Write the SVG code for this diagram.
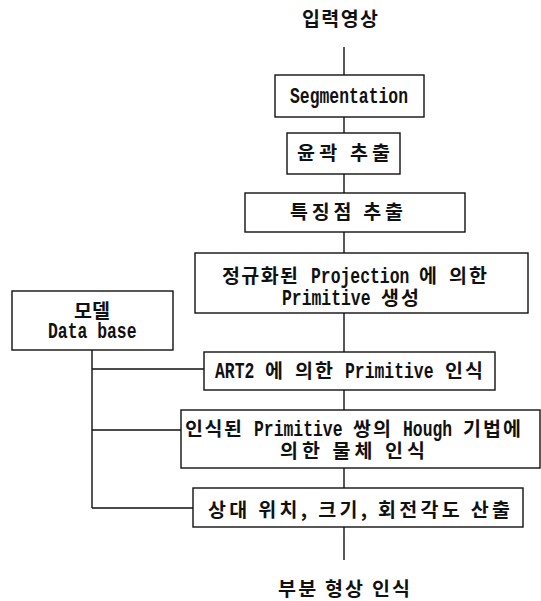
<svg xmlns="http://www.w3.org/2000/svg" width="541" height="601" viewBox="0 0 541 601">
<style>
.box{fill:#fff;stroke:#111;stroke-width:1.4}
.ln{fill:none;stroke:#111;stroke-width:1.4}
text{font-family:"Liberation Mono","Noto Sans CJK KR",monospace;font-size:16.4px;font-weight:bold;fill:#111}
.k{font-family:"Noto Sans CJK KR",sans-serif;font-size:19.5px;font-weight:bold}
</style>
<rect width="541" height="601" fill="#fff"/>
<g id="connectors">
<path class="ln" d="M344 47V75M344 117V133M344 174V193M344 232V253M344 313V352M344 390V410M344 468V488M344 527V560"/>
<path class="ln" d="M92 350V508M92 369H204M92 430H181M92 508H193"/>
</g>
<g id="input"><text x="302" y="26" textLength="76" lengthAdjust="spacing" class="k">입력영상</text></g>
<g id="segmentation"><rect class="box" x="275" y="75" width="149" height="42"/><text transform="translate(290 103) scale(1 1.3)">Segmentation</text></g>
<g id="contour"><rect class="box" x="287" y="133" width="113" height="41"/><text x="297" y="160" textLength="93" lengthAdjust="spacing" class="k">윤곽 추출</text></g>
<g id="feature"><rect class="box" x="245" y="193" width="220" height="39"/><text x="290" y="219" textLength="113" lengthAdjust="spacing" class="k">특징점 추출</text></g>
<g id="projection"><rect class="box" x="195" y="253" width="333" height="60"/>
<text x="222" y="283" textLength="76" lengthAdjust="spacing" class="k">정규화된</text>
<text transform="translate(311 283) scale(1 1.3)">Projection</text>
<text x="419" y="283" class="k">에</text>
<text x="449" y="283" textLength="38" lengthAdjust="spacing" class="k">의한</text>
<text transform="translate(282 305) scale(1 1.3)">Primitive</text>
<text x="381" y="305" textLength="38" lengthAdjust="spacing" class="k">생성</text></g>
<g id="model"><rect class="box" x="12" y="291" width="161" height="59"/><text x="92" y="318" text-anchor="middle" class="k">모델</text><text transform="translate(48 338) scale(1 1.3)">Data base</text></g>
<g id="art2"><rect class="box" x="204" y="352" width="291" height="38"/>
<text transform="translate(215 378) scale(1 1.3)">ART2</text>
<text x="265" y="378" class="k">에</text>
<text x="295" y="378" textLength="38" lengthAdjust="spacing" class="k">의한</text>
<text transform="translate(345 378) scale(1 1.3)">Primitive</text>
<text x="445" y="378" textLength="38" lengthAdjust="spacing" class="k">인식</text></g>
<g id="hough"><rect class="box" x="181" y="410" width="359" height="58"/>
<text x="185" y="436" textLength="57" lengthAdjust="spacing" class="k">인식된</text>
<text transform="translate(254 436) scale(1 1.3)">Primitive</text>
<text x="353" y="436" textLength="38" lengthAdjust="spacing" class="k">쌍의</text>
<text transform="translate(403 436) scale(1 1.3)">Hough</text>
<text x="463" y="436" textLength="58" lengthAdjust="spacing" class="k">기법에</text>
<text x="280" y="458" textLength="145" lengthAdjust="spacing" class="k">의한 물체 인식</text></g>
<g id="relative"><rect class="box" x="193" y="488" width="330" height="39"/><text x="208" y="517" textLength="302" lengthAdjust="spacing" class="k">상대 위치, 크기, 회전각도 산출</text></g>
<g id="output"><text x="278" y="596" textLength="132" lengthAdjust="spacing" class="k">부분 형상 인식</text></g>
</svg>
